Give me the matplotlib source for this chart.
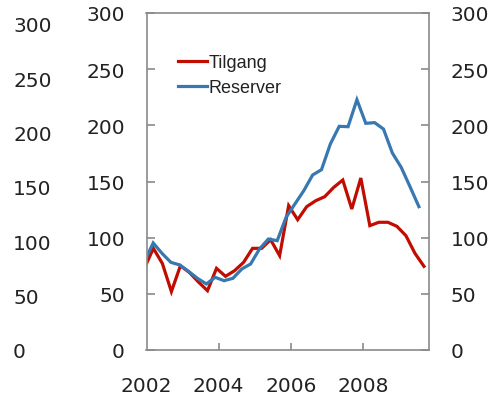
import numpy as np
import matplotlib.pyplot as plt

# quarterly series, first value sits just left of the axis (clipped)
tilgang = [72.6, 90.5, 77, 52, 75, 69, 60.5, 52.8, 72.7, 65.6, 70.6, 78, 90.5,
           90.5, 98.2, 84, 128.5, 116, 127.6, 132.9, 136.5, 144.8, 151.3, 125.5,
           153.1, 110.7, 113.7, 113.7, 110.1, 101.8, 86.1, 74.5]
reserver = [78.6, 95.3, 86, 78, 75.7, 70, 63.8, 58.8, 64.7, 61.7, 63.8, 72.1,
            76.6, 89.9, 98.8, 97.3, 118.1, 130, 141.8, 155.8, 160.5, 183.4, 199.1,
            198.8, 222.8, 201.8, 202.4, 196.7, 175.4, 162.6, 145.3, 127.6]
labels = ["Tilgang", "Reserver"]
yticks = [0, 50, 100, 150, 200, 250, 300]
xticks = [2002, 2004, 2006, 2008]

x_start = 2001.94
x_t = x_start + 0.25 * np.arange(len(tilgang))
x_r = x_start + 0.2455 * np.arange(len(reserver))

red = "#c00d00"
blue = "#3878b0"
grey = "#8a8a8a"
txt = "#222222"

fig = plt.figure(figsize=(4.94, 4.02), dpi=100)
ax = fig.add_axes([146.5 / 494, 51 / 402, 282.5 / 494, 337 / 402])

ax.plot(x_t, tilgang, color=red, lw=2.3, label=labels[0], solid_joinstyle="miter")
ax.plot(x_r, reserver, color=blue, lw=2.3, label=labels[1], solid_joinstyle="miter")

ax.set_xlim(2002, 2009.83)
ax.set_ylim(0, 300)
ax.set_yticks(yticks)
ax.set_xticks(xticks)

for s in ax.spines.values():
    s.set_color(grey)
    s.set_linewidth(1.2)

ax.tick_params(axis="y", direction="in", length=6, width=1.2, color=grey,
               labelsize=14.5, labelcolor=txt, pad=15.5, left=True, right=True,
               labelright=True)
ax.tick_params(axis="x", direction="in", length=5, width=1.2, color=grey,
               labelsize=14.5, labelcolor=txt, pad=19)
ax.xaxis.get_major_ticks()[0].tick1line.set_visible(False)

# extra scale on the far left (from neighbouring panel)
ax0 = fig.add_axes([13 / 494, 51 / 402, 0.0001, 326 / 402])
ax0.set_ylim(0, 300)
ax0.set_yticks(yticks)
ax0.set_xticks([])
for s in ax0.spines.values():
    s.set_visible(False)
ax0.tick_params(axis="y", left=False, labelleft=False, right=False,
                labelright=True, length=0, pad=0, labelsize=14.5, labelcolor=txt)
ax0.patch.set_alpha(0)

leg = ax.legend(loc="upper left", bbox_to_anchor=(0.08, 0.905), frameon=False,
                borderpad=0, handlelength=1.6, handletextpad=0.1,
                labelspacing=0.45, prop={"family": "Liberation Sans", "size": 13})
for t in leg.get_texts():
    t.set_color(txt)

fig.savefig("out.png", dpi=100)
